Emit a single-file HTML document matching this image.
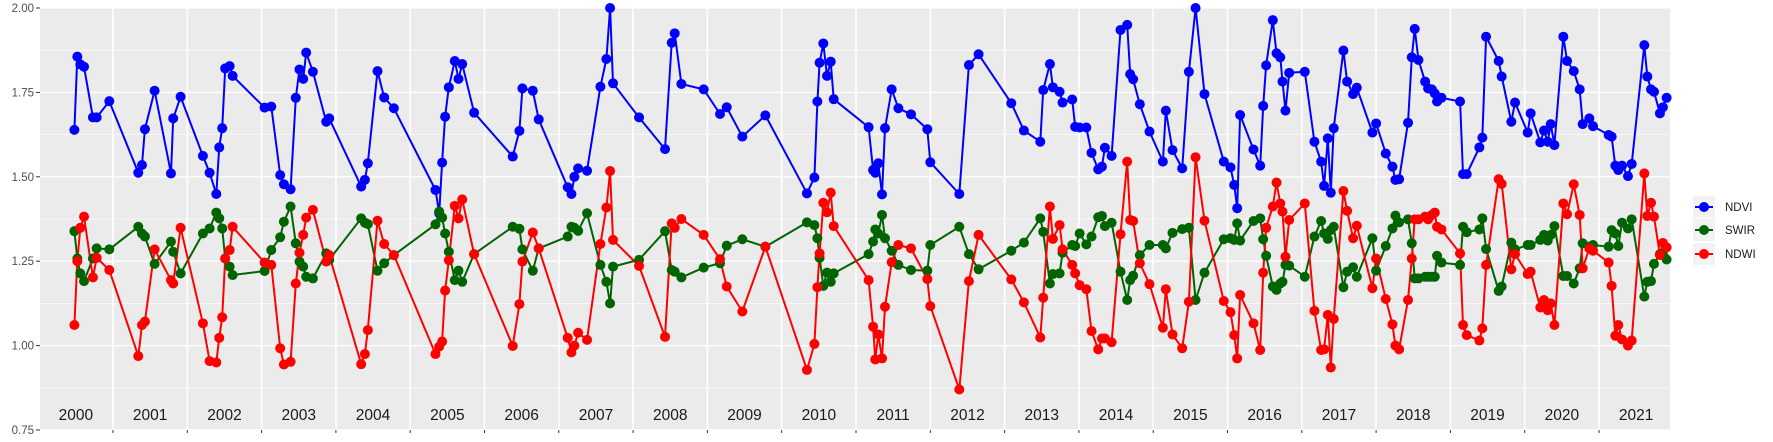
<!DOCTYPE html>
<html><head><meta charset="utf-8"><style>
html,body{margin:0;padding:0;background:#fff;}
svg{display:block;font-family:"Liberation Sans",sans-serif;}
</style></head><body>
<svg id="chart" width="1773" height="442" viewBox="0 0 1773 442" xmlns="http://www.w3.org/2000/svg">
<rect x="40" y="8" width="1630" height="422" fill="#ebebeb"/>
<g id="grid"></g>
<g id="years"></g>
<g id="series"></g>
<g id="axis"></g>
<g id="legend"></g>
</svg>
<script>
const dates=[2000.48,2000.52,2000.56,2000.61,2000.73,2000.78,2000.95,2001.34,2001.39,2001.43,2001.56,2001.78,2001.81,2001.91,2002.21,2002.30,2002.39,2002.43,2002.47,2002.51,2002.57,2002.61,2003.04,2003.13,2003.25,2003.30,2003.39,2003.46,2003.51,2003.56,2003.60,2003.69,2003.87,2003.91,2004.34,2004.39,2004.43,2004.56,2004.65,2004.78,2005.34,2005.39,2005.43,2005.47,2005.52,2005.60,2005.65,2005.70,2005.86,2006.38,2006.47,2006.51,2006.65,2006.73,2007.12,2007.17,2007.21,2007.26,2007.38,2007.56,2007.64,2007.69,2007.73,2008.08,2008.43,2008.52,2008.56,2008.65,2008.95,2009.17,2009.26,2009.47,2009.78,2010.34,2010.44,2010.48,2010.51,2010.56,2010.61,2010.66,2010.70,2011.17,2011.23,2011.26,2011.30,2011.35,2011.39,2011.48,2011.57,2011.74,2011.96,2012.00,2012.39,2012.52,2012.65,2013.09,2013.26,2013.48,2013.52,2013.61,2013.65,2013.74,2013.78,2013.91,2013.95,2014.01,2014.10,2014.17,2014.26,2014.31,2014.35,2014.44,2014.56,2014.65,2014.69,2014.73,2014.82,2014.95,2015.13,2015.17,2015.26,2015.39,2015.48,2015.57,2015.69,2015.95,2016.04,2016.09,2016.13,2016.17,2016.35,2016.44,2016.48,2016.52,2016.61,2016.66,2016.71,2016.74,2016.78,2016.83,2017.04,2017.17,2017.26,2017.30,2017.35,2017.39,2017.43,2017.56,2017.61,2017.69,2017.74,2017.95,2018.00,2018.13,2018.22,2018.26,2018.31,2018.43,2018.48,2018.52,2018.57,2018.66,2018.70,2018.75,2018.79,2018.82,2018.88,2019.13,2019.17,2019.22,2019.39,2019.43,2019.48,2019.65,2019.69,2019.82,2019.87,2020.04,2020.08,2020.21,2020.26,2020.31,2020.35,2020.40,2020.52,2020.57,2020.66,2020.74,2020.78,2020.87,2020.92,2021.13,2021.17,2021.22,2021.26,2021.31,2021.39,2021.44,2021.61,2021.65,2021.70,2021.74,2021.82,2021.86,2021.91];
const ndvi=[1.639,1.856,1.833,1.826,1.676,1.676,1.724,1.512,1.535,1.641,1.755,1.510,1.673,1.737,1.562,1.512,1.449,1.587,1.644,1.821,1.828,1.799,1.705,1.708,1.505,1.478,1.463,1.734,1.818,1.790,1.868,1.811,1.663,1.673,1.471,1.491,1.540,1.813,1.735,1.703,1.461,1.392,1.542,1.678,1.765,1.843,1.790,1.834,1.690,1.560,1.636,1.762,1.755,1.670,1.469,1.449,1.500,1.525,1.518,1.767,1.849,2.000,1.777,1.676,1.582,1.897,1.925,1.775,1.759,1.686,1.706,1.619,1.682,1.451,1.498,1.723,1.838,1.895,1.799,1.841,1.730,1.647,1.520,1.512,1.540,1.448,1.644,1.759,1.703,1.685,1.641,1.543,1.449,1.831,1.863,1.718,1.637,1.604,1.757,1.834,1.765,1.752,1.720,1.729,1.648,1.646,1.646,1.571,1.522,1.530,1.586,1.562,1.935,1.950,1.804,1.789,1.715,1.634,1.545,1.696,1.579,1.525,1.811,2.000,1.745,1.545,1.528,1.476,1.407,1.683,1.581,1.533,1.710,1.830,1.964,1.866,1.854,1.782,1.696,1.808,1.811,1.604,1.545,1.473,1.614,1.453,1.644,1.874,1.782,1.745,1.764,1.631,1.658,1.569,1.530,1.491,1.493,1.660,1.854,1.938,1.846,1.782,1.762,1.759,1.747,1.723,1.734,1.723,1.508,1.508,1.587,1.616,1.915,1.843,1.797,1.663,1.720,1.631,1.688,1.602,1.637,1.604,1.656,1.594,1.915,1.843,1.813,1.759,1.656,1.673,1.650,1.624,1.619,1.533,1.520,1.533,1.502,1.538,1.890,1.797,1.759,1.752,1.688,1.706,1.734];
const swir=[1.339,1.258,1.214,1.191,1.258,1.288,1.285,1.352,1.332,1.323,1.242,1.308,1.278,1.214,1.332,1.347,1.394,1.377,1.347,1.258,1.234,1.209,1.221,1.283,1.321,1.367,1.412,1.303,1.249,1.234,1.204,1.199,1.273,1.254,1.377,1.364,1.360,1.222,1.244,1.268,1.359,1.397,1.379,1.332,1.278,1.194,1.222,1.189,1.271,1.352,1.346,1.285,1.222,1.288,1.323,1.352,1.349,1.340,1.392,1.239,1.189,1.125,1.234,1.254,1.339,1.224,1.219,1.202,1.231,1.244,1.296,1.315,1.293,1.365,1.357,1.318,1.260,1.177,1.216,1.189,1.214,1.271,1.308,1.344,1.332,1.387,1.318,1.281,1.239,1.224,1.222,1.298,1.352,1.271,1.226,1.281,1.305,1.377,1.337,1.184,1.212,1.214,1.275,1.298,1.295,1.332,1.300,1.323,1.380,1.384,1.354,1.364,1.219,1.135,1.194,1.207,1.268,1.298,1.298,1.288,1.334,1.345,1.349,1.135,1.216,1.315,1.318,1.313,1.362,1.311,1.369,1.377,1.315,1.266,1.175,1.165,1.184,1.189,1.239,1.237,1.204,1.323,1.369,1.332,1.316,1.342,1.352,1.173,1.219,1.232,1.204,1.318,1.222,1.295,1.347,1.385,1.365,1.374,1.303,1.199,1.199,1.204,1.204,1.204,1.204,1.266,1.246,1.239,1.352,1.336,1.344,1.377,1.286,1.162,1.175,1.305,1.285,1.298,1.298,1.313,1.328,1.311,1.328,1.354,1.206,1.206,1.184,1.229,1.303,1.293,1.298,1.293,1.342,1.332,1.295,1.364,1.347,1.374,1.145,1.189,1.191,1.242,1.271,1.271,1.255];
const ndwi=[1.061,1.250,1.349,1.382,1.202,1.260,1.224,0.969,1.061,1.071,1.285,1.194,1.184,1.349,1.066,0.954,0.950,1.023,1.084,1.258,1.283,1.352,1.246,1.239,0.992,0.944,0.952,1.184,1.275,1.328,1.379,1.402,1.249,1.268,0.945,0.975,1.046,1.370,1.301,1.268,0.975,0.997,1.012,1.163,1.253,1.414,1.377,1.433,1.271,0.999,1.123,1.249,1.335,1.288,1.023,0.980,1.000,1.038,1.017,1.301,1.409,1.517,1.313,1.236,1.026,1.362,1.349,1.375,1.328,1.256,1.175,1.101,1.293,0.928,1.005,1.173,1.273,1.423,1.395,1.453,1.354,1.194,1.056,0.959,1.033,0.962,1.115,1.247,1.298,1.288,1.197,1.117,0.870,1.191,1.328,1.196,1.128,1.024,1.142,1.412,1.316,1.357,1.285,1.239,1.214,1.179,1.167,1.043,0.989,1.021,1.021,1.010,1.330,1.545,1.372,1.369,1.244,1.182,1.053,1.167,1.033,0.992,1.130,1.558,1.370,1.132,1.099,1.031,0.962,1.150,1.066,0.987,1.216,1.349,1.412,1.483,1.421,1.397,1.263,1.372,1.421,1.103,0.987,0.989,1.091,0.935,1.079,1.458,1.399,1.318,1.355,1.170,1.258,1.138,1.063,1.000,0.989,1.135,1.258,1.374,1.374,1.382,1.374,1.387,1.394,1.352,1.344,1.273,1.061,1.031,1.015,1.051,1.239,1.493,1.479,1.226,1.271,1.212,1.219,1.113,1.135,1.105,1.125,1.061,1.421,1.389,1.478,1.387,1.229,1.288,1.281,1.246,1.177,1.029,1.061,1.018,1.000,1.015,1.510,1.384,1.423,1.382,1.268,1.304,1.291];
const yTicks=[0.75,1.00,1.25,1.50,1.75,2.00];
const yearLabels=[2000,2001,2002,2003,2004,2005,2006,2007,2008,2009,2010,2011,2012,2013,2014,2015,2016,2017,2018,2019,2020,2021];
const seriesNames=["NDVI","SWIR","NDWI"];

const NS="http://www.w3.org/2000/svg";
const X0=40,X1=1670,Y0=8,Y1=430;
const xs=d=>113+74.3*(d-2001);
const ys=v=>Y1-(v-0.75)/1.25*(Y1-Y0);
function mk(tag,attrs,parent){const e=document.createElementNS(NS,tag);for(const k in attrs)e.setAttribute(k,attrs[k]);parent.appendChild(e);return e;}
const grid=document.getElementById('grid');
for(let i=0;i<yTicks.length-1;i++){
  const m=(yTicks[i]+yTicks[i+1])/2;
  const l=mk('line',{x1:X0,x2:X1,y1:ys(m),y2:ys(m),stroke:'#fff','stroke-width':0.6},grid);
  
  
}
yTicks.forEach(v=>{
  const l=mk('line',{x1:X0,x2:X1,y1:ys(v),y2:ys(v),stroke:'#fff','stroke-width':1.3},grid);
  
  
});
yearLabels.forEach(y=>{
  if(y===2000)return;
  const x=xs(y);
  const l=mk('line',{x1:x,x2:x,y1:Y0,y2:Y1,stroke:'#fff','stroke-width':1.6},grid);
  
  
  const t=mk('line',{x1:x,x2:x,y1:Y1,y2:Y1+3,stroke:'#333','stroke-width':1},grid);
  
  
});
const yg=document.getElementById('years');
yearLabels.forEach(y=>{
  const t=mk('text',{x:xs(y+0.5),y:420,'text-anchor':'middle','font-size':15.5,fill:'#1a1a1a'},yg);
  t.textContent=y;
  
  
});
const ax=document.getElementById('axis');
yTicks.forEach(v=>{
  const t=mk('text',{x:34,y:ys(v)+4,'text-anchor':'end','font-size':11.5,fill:'#4d4d4d'},ax);
  t.textContent=v.toFixed(2);
  
  
  const k=mk('line',{x1:36,x2:40,y1:ys(v),y2:ys(v),stroke:'#333','stroke-width':1},ax);
  
  
});
const colors=['#0000ff','#006400','#ff0000'];
const data=[ndvi,swir,ndwi];
const sg=document.getElementById('series');
data.forEach((arr,si)=>{
  const pts=arr.map((v,i)=>xs(dates[i]).toFixed(1)+','+ys(v).toFixed(1)).join(' ');
  const pl=mk('polyline',{points:pts,fill:'none',stroke:colors[si],'stroke-width':2,'stroke-linejoin':'round'},sg);
  
  
});
data.forEach((arr,si)=>{
  arr.forEach((v,i)=>{
    const c=mk('circle',{cx:xs(dates[i]),cy:ys(v),r:5,fill:colors[si]},sg);
    
    
  });
});
const lg=document.getElementById('legend');
const rowsY=[207,230,254];
seriesNames.forEach((n,i)=>{
  const cy=rowsY[i];
  const b=mk('rect',{x:1693,y:cy-11,width:22,height:22,fill:'#f2f2f2'},lg);
  
  
  const l=mk('line',{x1:1695,x2:1713,y1:cy,y2:cy,stroke:colors[i],'stroke-width':2},lg);
  
  
  const c=mk('circle',{cx:1704,cy:cy,r:5,fill:colors[i]},lg);
  
  
  const t=mk('text',{x:1725,y:cy+4,'font-size':11.5,fill:'#1a1a1a'},lg);
  t.textContent=n;
  
  
});
</script>
</body></html>
